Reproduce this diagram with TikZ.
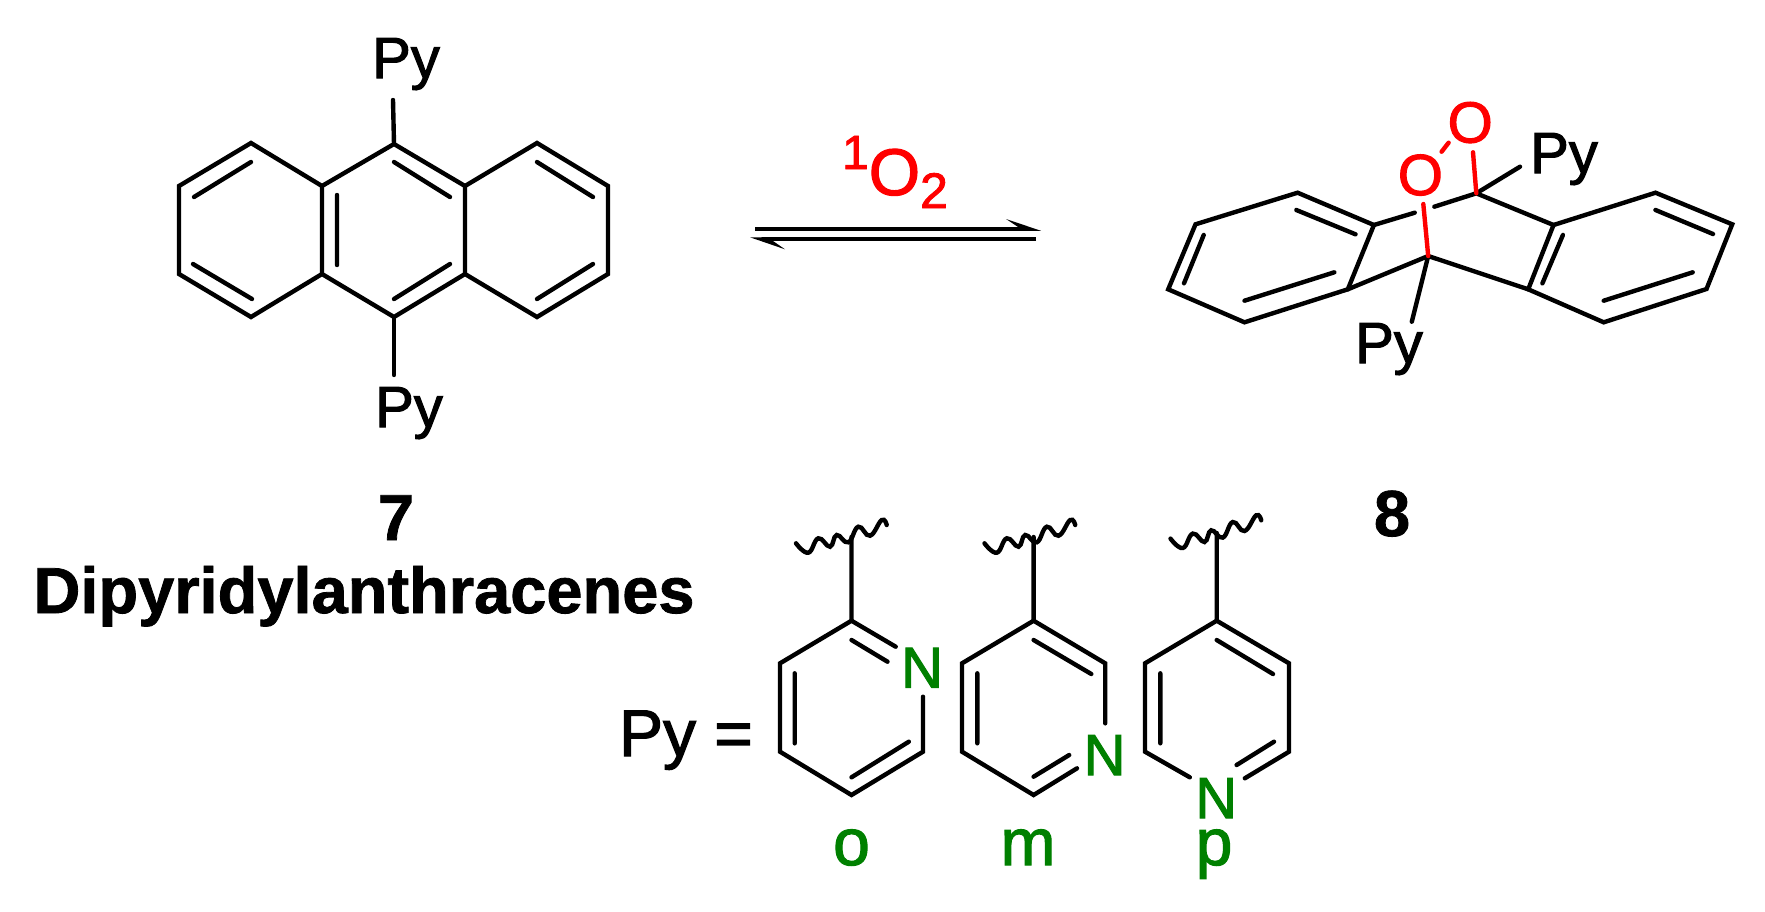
\documentclass[tikz,border=0pt]{standalone}
\usepackage{fontspec}
\setmainfont{Liberation Sans}
\newfontfamily\atomfont[FakeBold=1.8]{Liberation Sans}
\newfontfamily\labelfont[FakeBold=1.2,UprightFont=* Bold]{Liberation Sans}
\definecolor{pyrgreen}{RGB}{0,128,0}
\tikzset{
  bond/.style={line width=2.2pt, line cap=round, line join=miter},
  redbond/.style={bond, red},
  atom/.style={inner sep=0pt, anchor=base, font=\fontsize{29}{29}\atomfont},
  big/.style={inner sep=0pt, anchor=base, font=\fontsize{33}{33}\atomfont},
  boldlab/.style={inner sep=0pt, anchor=base, font=\fontsize{32.5}{33}\labelfont},
}
% attachment squiggle above a stem
\newcommand{\wavyline}[1]{
  \draw[bond, shift={(#1)}] plot[smooth, tension=0.75] coordinates {
    (-55.5,1.6) (-43.2,11) (-33.2,-3.4) (-21.5,5) (-14.8,-6.7)
    (-3.2,0.6) (6.8,-15) (18.5,-6) (30.2,-21.7) (35.2,-16.7)};
}
\begin{document}
\begin{tikzpicture}[x=0.5pt,y=-0.5pt]
\useasboundingbox (0,0) rectangle (1765,911);

% anthracene 7
\coordinate (a1) at (394,144);
\coordinate (a2) at (465,186);
\coordinate (a3) at (465,274);
\coordinate (a4) at (394,317);
\coordinate (a5) at (322,274);
\coordinate (a6) at (322,186);
\coordinate (a7) at (251,143);
\coordinate (a8) at (179,186);
\coordinate (a9) at (179,274);
\coordinate (a10) at (251,317);
\coordinate (a11) at (537,143);
\coordinate (a12) at (608,186);
\coordinate (a13) at (608,274);
\coordinate (a14) at (537,317);
\coordinate (aTop) at (393,100);
\coordinate (aBot) at (394,375);

\node[atom] (pyTop) at (406,78) {Py};
\node[atom] (pyBot) at (409,427) {Py};

\draw[bond] (a1) -- (a2) -- (a3) -- (a4) -- (a5) -- (a6) -- cycle;
\draw[bond] (a6) -- (a7) -- (a8) -- (a9) -- (a10) -- (a5);
\draw[bond] (a2) -- (a11) -- (a12) -- (a13) -- (a14) -- (a3);
\draw[bond] (a1) -- (aTop);
\draw[bond] (a4) -- (aBot);

\coordinate (b1) at (194,197);
\coordinate (b2) at (251,162);
\coordinate (b3) at (193,264);
\coordinate (b4) at (252,299);
\coordinate (b5) at (337,195);
\coordinate (b6) at (337,265);
\coordinate (b7) at (394,162);
\coordinate (b8) at (450,197);
\coordinate (b9) at (450,264);
\coordinate (b10) at (394,299);
\coordinate (b11) at (537,162);
\coordinate (b12) at (593,197);
\coordinate (b13) at (593,264);
\coordinate (b14) at (537,299);
\draw[bond]
    (b1) -- (b2)
    (b3) -- (b4)
    (b5) -- (b6)
    (b7) -- (b8)
    (b9) -- (b10)
    (b11) -- (b12)
    (b13) -- (b14)
    ;

\node[boldlab] (seven) at (396,540) {7};
\node[boldlab] (name7) at (364,613) {Dipyridylanthracenes};

% equilibrium arrows
\coordinate (fwdS) at (755,228.7);
\coordinate (fwdE) at (1020,228.7);
\coordinate (fwdTip) at (1041,230.8);
\coordinate (fwdBarb) at (1006,219);
\coordinate (fwdBase) at (1018,227);
\coordinate (revS) at (1036,239.3);
\coordinate (revE) at (770,239.3);
\coordinate (revTip) at (750,237.3);
\coordinate (revBarb) at (785,249.3);
\coordinate (revBase) at (773,241);
\draw[line width=2.15pt] (fwdS) -- (fwdE);
\draw[line width=2.15pt] (revS) -- (revE);
\fill (fwdTip) -- (fwdBarb) -- (fwdBase) -- (fwdE) -- (1020,230.8) -- cycle;
\fill (revTip) -- (revBarb) -- (revBase) -- (revE) -- (770,237.2) -- cycle;

\node[inner sep=0pt, anchor=base, red, font=\fontsize{33}{33}\atomfont] (singlet) at (895,195)
    {\raisebox{13pt}{\fontsize{24}{24}\atomfont 1}O\raisebox{-6.5pt}{\fontsize{25}{25}\atomfont 2}};

% endoperoxide 8
\coordinate (c1) at (1297.6,192.7);
\coordinate (c2) at (1195.5,224.3);
\coordinate (c3) at (1168.2,289.3);
\coordinate (c4) at (1244.5,322.3);
\coordinate (c5) at (1347.8,289.3);
\coordinate (c6) at (1373.9,225);
\coordinate (cT) at (1476.3,193.3);
\coordinate (cB) at (1428.2,256);
\coordinate (d1) at (1553.5,225);
\coordinate (d2) at (1655.5,192.7);
\coordinate (d3) at (1732.2,224.3);
\coordinate (d4) at (1706.5,289);
\coordinate (d5) at (1603.7,322.3);
\coordinate (d6) at (1528.2,289.3);
\coordinate (gapL) at (1414.7,212.7);
\coordinate (gapR) at (1434.3,206.7);
\coordinate (cTpy) at (1520,166.7);
\coordinate (cBpy) at (1411.8,321.7);
\coordinate (cTo) at (1473,152.3);
\coordinate (cBo) at (1423.3,204);
\coordinate (oo1) at (1441.6,151.7);
\coordinate (oo2) at (1448.6,142.7);

\draw[bond] (c6) -- (c1) -- (c2) -- (c3) -- (c4) -- (c5) -- cycle;
\draw[bond] (d6) -- (d1) -- (d2) -- (d3) -- (d4) -- (d5) -- cycle;
\draw[bond]
    (c6) -- (gapL)
    (gapR) -- (cT)
    (c5) -- (cB)
    (cB) -- (d6)
    (cT) -- (d1)
    (cT) -- (cTpy)
    (cB) -- (cBpy)
    ;

\coordinate (e1) at (1296.3,210);
\coordinate (e2) at (1355.5,234.3);
\coordinate (e3) at (1203.7,235);
\coordinate (e4) at (1184,283.3);
\coordinate (e5) at (1244.5,300.7);
\coordinate (e6) at (1334.3,272.3);
\coordinate (e7) at (1655.5,210);
\coordinate (e8) at (1713,234);
\coordinate (e9) at (1692.7,272.3);
\coordinate (e10) at (1603.7,300.7);
\coordinate (e11) at (1562.9,235);
\coordinate (e12) at (1542.4,283.3);
\draw[bond]
    (e1) -- (e2)
    (e3) -- (e4)
    (e5) -- (e6)
    (e7) -- (e8)
    (e9) -- (e10)
    (e11) -- (e12)
    ;

\draw[redbond]
    (cT) -- (cTo)
    (cB) -- (cBo)
    (oo1) -- (oo2)
    ;

\node[atom, red] (o1) at (1420.4,195) {O};
\node[atom, red] (o2) at (1470.2,142.5) {O};
\node[atom] (pyR) at (1564,173) {Py};
\node[atom] (pyL) at (1389,363) {Py};
\node[boldlab] (eight) at (1392,536) {8};

% pyridine rings
\node[big] (pyEq) at (686,756) {Py =};

\coordinate (p1) at (851.5,620.7);
\coordinate (p2) at (780,663.3);
\coordinate (p3) at (780,751.7);
\coordinate (p4) at (851.5,795);
\coordinate (p5) at (923,751.7);
\coordinate (p6) at (923,696.7);
\coordinate (p7) at (895.7,646.7);
\coordinate (pS) at (851.5,537);
\coordinate (pW) at (851.5,541.7);
\coordinate (pi1) at (794.7,673.3);
\coordinate (pi2) at (794.7,743.3);
\coordinate (pi3) at (851.5,640);
\coordinate (pi4) at (887.5,661.7);
\coordinate (pi5) at (908.8,741.7);
\coordinate (pi6) at (851.5,777.3);
\draw[bond] (p7) -- (p1) -- (p2) -- (p3) -- (p4) -- (p5) -- (p6);
\draw[bond]
    (p1) -- (pS)
    (pi1) -- (pi2)
    (pi3) -- (pi4)
    (pi5) -- (pi6)
    ;
\wavyline{pW}
\node[atom, pyrgreen] (nO) at (922,687.7) {N};
\node[big, pyrgreen] (labO) at (851.5,865) {o};

\coordinate (q1) at (1033.6,620.7);
\coordinate (q2) at (962,663.3);
\coordinate (q3) at (962,751.7);
\coordinate (q4) at (1033.6,795);
\coordinate (q5) at (1077,768.3);
\coordinate (q6) at (1105.2,663.3);
\coordinate (q7) at (1105.2,723.3);
\coordinate (qS) at (1033.6,537);
\coordinate (qW) at (1040,541.7);
\coordinate (qi1) at (977.3,673.3);
\coordinate (qi2) at (977.3,743.3);
\coordinate (qi3) at (1033.6,640);
\coordinate (qi4) at (1091.3,674);
\coordinate (qi5) at (1069.2,755);
\coordinate (qi6) at (1033.6,776.7);
\draw[bond] (q7) -- (q6) -- (q1) -- (q2) -- (q3) -- (q4) -- (q5);
\draw[bond]
    (q1) -- (qS)
    (qi1) -- (qi2)
    (qi3) -- (qi4)
    (qi5) -- (qi6)
    ;
\wavyline{qW}
\node[atom, pyrgreen] (nM) at (1104.5,775) {N};
\node[big, pyrgreen] (labM) at (1028,865) {m};

\coordinate (r1) at (1216.7,620.7);
\coordinate (r2) at (1145,663.3);
\coordinate (r3) at (1145,751.7);
\coordinate (r4) at (1189.8,777.3);
\coordinate (r5) at (1289,663.3);
\coordinate (r6) at (1289,751.7);
\coordinate (r7) at (1244.8,778.3);
\coordinate (rS) at (1216.7,533);
\coordinate (rW) at (1226,537);
\coordinate (ri1) at (1160.3,673.3);
\coordinate (ri2) at (1160.3,743.3);
\coordinate (ri3) at (1216.7,640);
\coordinate (ri4) at (1273,674);
\coordinate (ri5) at (1274,741.7);
\coordinate (ri6) at (1236.6,765);
\draw[bond] (r4) -- (r3) -- (r2) -- (r1) -- (r5) -- (r6) -- (r7);
\draw[bond]
    (r1) -- (rS)
    (ri1) -- (ri2)
    (ri3) -- (ri4)
    (ri5) -- (ri6)
    ;
\wavyline{rW}
\node[atom, pyrgreen] (nP) at (1216.2,818) {N};
\node[big, pyrgreen] (labP) at (1214,865) {p};
\end{tikzpicture}
\end{document}
